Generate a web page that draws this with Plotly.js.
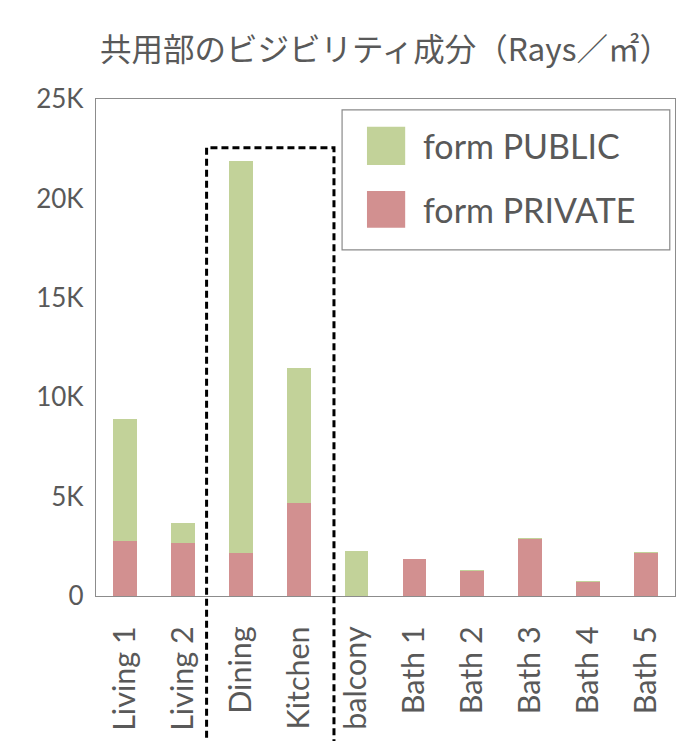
<!DOCTYPE html>
<html>
<head>
<meta charset="utf-8">
<script src="https://cdn.plot.ly/plotly-3.0.1.min.js"></script>
<style>html,body{margin:0;padding:0;background:#fff;}#chart{width:690px;height:741px;}</style>
</head>
<body>
<div id="chart"></div>
<script>
const categories = ['Living 1','Living 2','Dining','Kitchen','balcony','Bath 1','Bath 2','Bath 3','Bath 4','Bath 5'];
const privateVals = [2750, 2670, 2160, 4680, 0, 1860, 1240, 2850, 680, 2140];
const publicVals  = [6170, 1020, 19710, 6770, 2280, 20, 70, 70, 70, 70];
const seriesNames = ['form PUBLIC', 'form PRIVATE'];
const yTickVals = [0, 5000, 10000, 15000, 20000, 25000];
const yTickText = ['0', '5K', '10K', '15K', '20K', '25K'];
const titleText = '共用部のビジビリティ成分（Rays／㎡）';

const green = '#C2D299';
const red = '#D29090';
const textColor = '#595959';
const latin = 'Lato, "Noto Sans", sans-serif';

const traces = [
  {type:'bar', name: seriesNames[1], x: categories, y: privateVals, marker:{color: red}, showlegend:false, hoverinfo:'x+y'},
  {type:'bar', name: seriesNames[0], x: categories, y: publicVals, marker:{color: green}, showlegend:false, hoverinfo:'x+y'}
];

const shapes = [
  // dashed highlight box around Dining / Kitchen
  {type:'rect', xref:'x domain', yref:'y domain', x0:0.191, x1:0.411, y0:-0.4, y1:0.902,
   line:{color:'#000', width:3, dash:'7px,4px'}, fillcolor:'rgba(0,0,0,0)'},
  // legend box
  {type:'rect', xref:'x domain', yref:'y domain', x0:0.425, x1:0.991, y0:0.6965, y1:0.978,
   line:{color:'#8a8a8a', width:1.2}, fillcolor:'#fff'},
  {type:'rect', xref:'x domain', yref:'y domain', x0:0.468, x1:0.534, y0:0.867, y1:0.944,
   line:{width:0}, fillcolor: green},
  {type:'rect', xref:'x domain', yref:'y domain', x0:0.468, x1:0.534, y0:0.741, y1:0.815,
   line:{width:0}, fillcolor: red}
];

const annotations = [
  {xref:'x domain', yref:'y domain', x:0.561, y:0.9055, xanchor:'left', yanchor:'middle', showarrow:false,
   text: seriesNames[0], font:{family: latin, size:34, color: textColor}},
  {xref:'x domain', yref:'y domain', x:0.561, y:0.778, xanchor:'left', yanchor:'middle', showarrow:false,
   text: seriesNames[1], font:{family: latin, size:34, color: textColor}}
];

const layout = {
  width: 690, height: 741,
  margin: {l:96, r:15, t:99, b:144.5, pad:0},
  paper_bgcolor:'#fff', plot_bgcolor:'#fff',
  barmode:'stack', bargap:0.59,
  showlegend:false,
  title: {text: titleText, xref:'paper', x:0.5, xanchor:'center', yref:'container', y:1-50/741, yanchor:'middle',
          font:{family:'"Noto Sans CJK JP", sans-serif', size:31.5, color: textColor}},
  xaxis: {type:'category', showgrid:false, zeroline:false, showline:true, mirror:true, linecolor:'#8c8c8c', linewidth:1.2,
          ticks:'', tickangle:-90, ticklabelstandoff:17,
          tickfont:{family: latin, size:30.5, color: textColor}, fixedrange:true},
  yaxis: {range:[0,25000], showgrid:false, zeroline:false, showline:true, mirror:true, linecolor:'#8c8c8c', linewidth:1.2,
          ticks:'', tickmode:'array', tickvals: yTickVals, ticktext: yTickText, ticklabelstandoff:6,
          tickfont:{family: latin, size:26, color: textColor}, fixedrange:true},
  shapes: shapes,
  annotations: annotations
};

Plotly.newPlot('chart', traces, layout, {displayModeBar:false, staticPlot:true});
</script>
</body>
</html>
